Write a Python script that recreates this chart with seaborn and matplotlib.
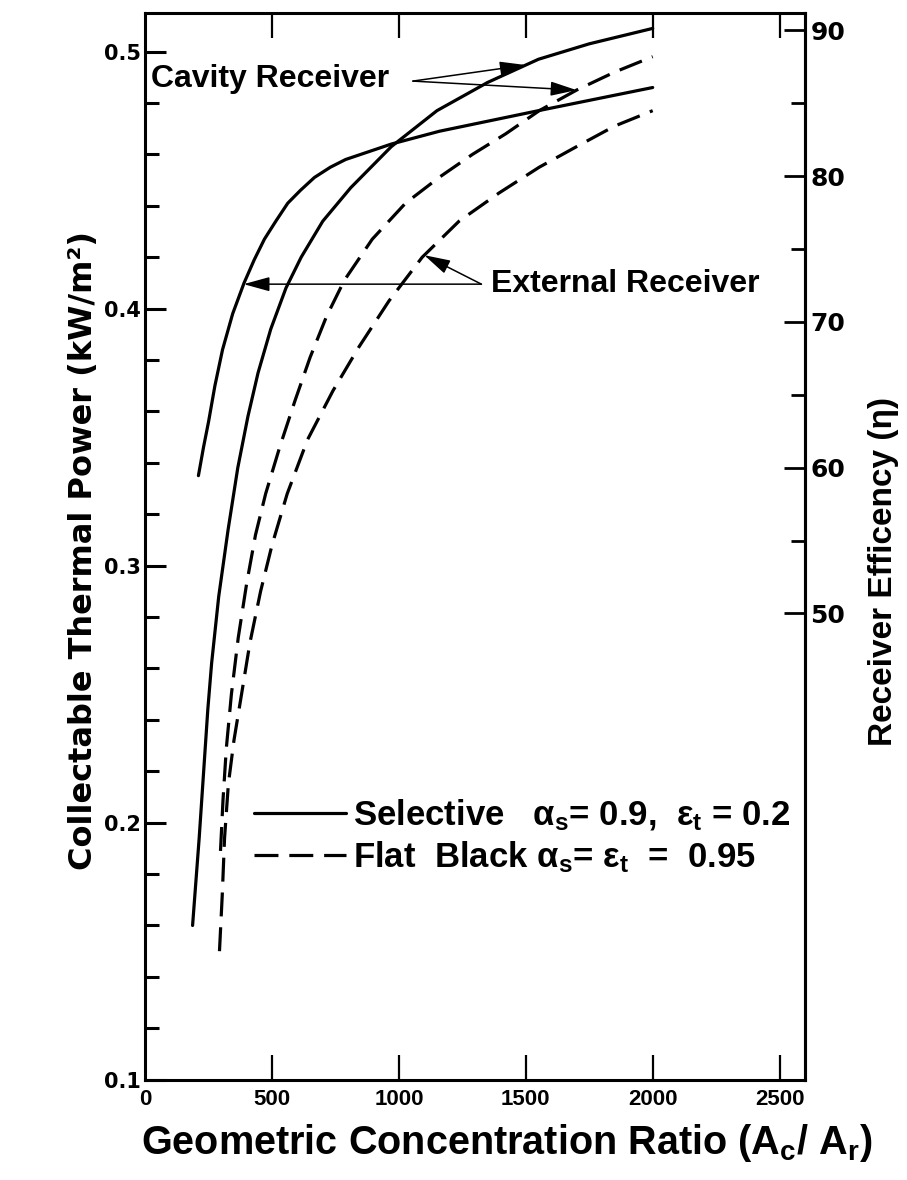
import numpy as np
import matplotlib
matplotlib.use("Agg")
import matplotlib.pyplot as plt
import seaborn as sns
from matplotlib.ticker import FixedLocator, MultipleLocator

# ---------------- data ----------------
cav_sel_x = [187, 213, 247, 262, 290, 327, 365, 405, 445, 495, 555, 615, 700, 810, 970, 1150, 1350, 1550, 1750, 2000]
cav_sel_p = [0.160, 0.194, 0.244, 0.262, 0.288, 0.314, 0.338, 0.358, 0.375, 0.392, 0.408, 0.420, 0.434, 0.447, 0.463, 0.477, 0.488, 0.497, 0.503, 0.509]

ext_sel_x = [210, 230, 250, 275, 305, 345, 390, 430, 470, 515, 562, 612, 667, 730, 790, 880, 970, 1160, 1355, 1550, 1800, 2000]
ext_sel_p = [0.335, 0.346, 0.356, 0.370, 0.384, 0.398, 0.410, 0.419, 0.427, 0.434, 0.441, 0.446, 0.451, 0.455, 0.458, 0.461, 0.464, 0.469, 0.473, 0.477, 0.482, 0.486]

cav_blk_x = [297, 307, 320, 340, 367, 400, 435, 475, 530, 590, 650, 715, 785, 895, 1026, 1158, 1290, 1421, 1553, 1700, 1850, 2000]
cav_blk_p = [0.189, 0.209, 0.229, 0.250, 0.272, 0.293, 0.312, 0.328, 0.346, 0.364, 0.381, 0.397, 0.411, 0.427, 0.441, 0.451, 0.460, 0.468, 0.477, 0.485, 0.492, 0.498]

ext_blk_x = [293, 304, 313, 328, 350, 380, 413, 455, 500, 560, 640, 740, 842, 961, 1092, 1237, 1395, 1553, 1700, 1850, 2000]
ext_blk_p = [0.150, 0.172, 0.194, 0.215, 0.232, 0.250, 0.270, 0.290, 0.308, 0.328, 0.349, 0.368, 0.385, 0.403, 0.420, 0.434, 0.445, 0.455, 0.463, 0.471, 0.477]

x_ticks = [0, 500, 1000, 1500, 2000, 2500]
x_tick_labels = ["0", "500", "1000", "1500", "2000", "2500"]
y_ticks = [0.1, 0.2, 0.3, 0.4, 0.5]
y_tick_labels = ["0.1", "0.2", "0.3", "0.4", "0.5"]
eff_ticks = [50, 60, 70, 80, 90]
eff_tick_labels = ["50", "60", "70", "80", "90"]
eff_minor = [55, 65, 75, 85]

legend_labels = ["Selective   α$_s$= 0.9,  ε$_t$ = 0.2",
                 "Flat  Black α$_s$= ε$_t$  =  0.95"]

# ---------------- style ----------------
sns.set_theme(style="ticks")
plt.rcParams["font.family"] = ["Liberation Sans", "DejaVu Sans"]
plt.rcParams["font.weight"] = "bold"
plt.rcParams["mathtext.default"] = "regular"
for k in ["text.color", "axes.labelcolor", "xtick.color", "ytick.color", "axes.edgecolor"]:
    plt.rcParams[k] = "black"

WIDE = ["DejaVu Sans"]
LW = 2.3
DASH = (0, (7.5, 3.4))

fig = plt.figure(figsize=(9.07, 11.8), dpi=100)
ax = fig.add_axes([0.16, 0.085, 0.7275, 0.904])

series = [
    (cav_sel_x, cav_sel_p, "-"),
    (ext_sel_x, ext_sel_p, "-"),
    (cav_blk_x, cav_blk_p, DASH),
    (ext_blk_x, ext_blk_p, DASH),
]
for xs, ps, ls in series:
    sns.lineplot(x=xs, y=ps, ax=ax, color="black", lw=LW, linestyle=ls,
                 sort=False, estimator=None, errorbar=None)
line_solid = ax.lines[0]
line_dash = ax.lines[2]

ax.set_xlim(0, 2600)
ax.set_ylim(0.1, 0.515)

ax.set_xticks(x_ticks)
ax.set_xticklabels(x_tick_labels, fontsize=16, fontweight="bold")
ax.yaxis.set_major_locator(FixedLocator(y_ticks))
ax.set_yticklabels(y_tick_labels, family=WIDE, fontsize=15, fontweight="bold")
ax.yaxis.set_minor_locator(MultipleLocator(0.02))

ax.tick_params(axis="x", which="major", direction="in", length=18, width=1.6,
               top=True, bottom=True, pad=7)
ax.tick_params(axis="y", which="major", direction="in", length=15, width=2.2,
               left=True, right=False, pad=3)
ax.tick_params(axis="y", which="minor", direction="in", length=10, width=2.2,
               left=True, right=False)
t0 = ax.xaxis.get_major_ticks()[0]
t0.tick1line.set_visible(False)
t0.tick2line.set_visible(False)

for s in ax.spines.values():
    s.set_linewidth(2.2)

ax.set_xlabel("Geometric Concentration Ratio (A$_c$/ A$_r$)",
              fontsize=28.5, fontweight="bold")
ax.xaxis.set_label_coords(0.548, -0.04)
ax.set_ylabel("Collectable Thermal Power (kW/m²)", family=WIDE, fontsize=23,
              fontweight="bold")
ax.yaxis.set_label_coords(-0.07, 0.496)

# ---------------- right axis ----------------
ax2 = ax.twinx()
ax2.set_ylim(18, 91.2)
ax2.yaxis.set_major_locator(FixedLocator(eff_ticks))
ax2.yaxis.set_minor_locator(FixedLocator(eff_minor))
ax2.set_yticklabels(eff_tick_labels, family=WIDE, fontsize=18, fontweight="bold")
ax2.tick_params(axis="y", which="major", direction="in", length=15, width=2.0,
                right=True, left=False, pad=4)
ax2.tick_params(axis="y", which="minor", direction="in", length=10, width=2.0,
                right=True, left=False)
for k in ["left", "top", "bottom"]:
    ax2.spines[k].set_visible(False)
ax2.spines["right"].set_linewidth(2.2)
ax2.set_ylabel("Receiver Efficency (η)", fontsize=24, fontweight="bold")
ax2.yaxis.set_label_coords(1.096, 0.476)
ax2.grid(False)
ax.grid(False)

# ---------------- annotations ----------------
arrow_kw = dict(arrowstyle="-|>,head_length=0.8,head_width=0.22", lw=1.1,
                color="black", shrinkA=0, shrinkB=0, mutation_scale=20)

ax.text(25, 0.4895, "Cavity Receiver", fontsize=23, fontweight="bold",
        ha="left", va="center")
cav_origin = (1055, 0.4885)
tip1 = (1500, float(np.interp(1500, cav_sel_x, cav_sel_p)))
tip2 = (1700, float(np.interp(1700, cav_blk_x, cav_blk_p)))
ax.annotate("", xy=tip1, xytext=cav_origin, arrowprops=arrow_kw)
ax.annotate("", xy=tip2, xytext=cav_origin, arrowprops=arrow_kw)

ax.text(1362, 0.4095, "External Receiver", fontsize=23, fontweight="bold",
        ha="left", va="center")
ext_origin = (1325, 0.4095)
tip3 = (float(np.interp(0.4095, ext_sel_p, ext_sel_x)), 0.4095)
tip4 = (1100, float(np.interp(1100, ext_blk_x, ext_blk_p)))
ax.annotate("", xy=tip3, xytext=ext_origin, arrowprops=arrow_kw)
ax.annotate("", xy=tip4, xytext=ext_origin, arrowprops=arrow_kw)

# ---------------- legend ----------------
leg = ax.legend(handles=[line_solid, line_dash], labels=legend_labels,
                loc="center left", bbox_to_anchor=(0.165, 0.228),
                frameon=False, fontsize=25, handlelength=2.65,
                handletextpad=0.2, labelspacing=0.18, borderpad=0,
                borderaxespad=0)
for t in leg.get_texts():
    t.set_fontweight("bold")

fig.savefig("out.png", dpi=100, facecolor="white")
